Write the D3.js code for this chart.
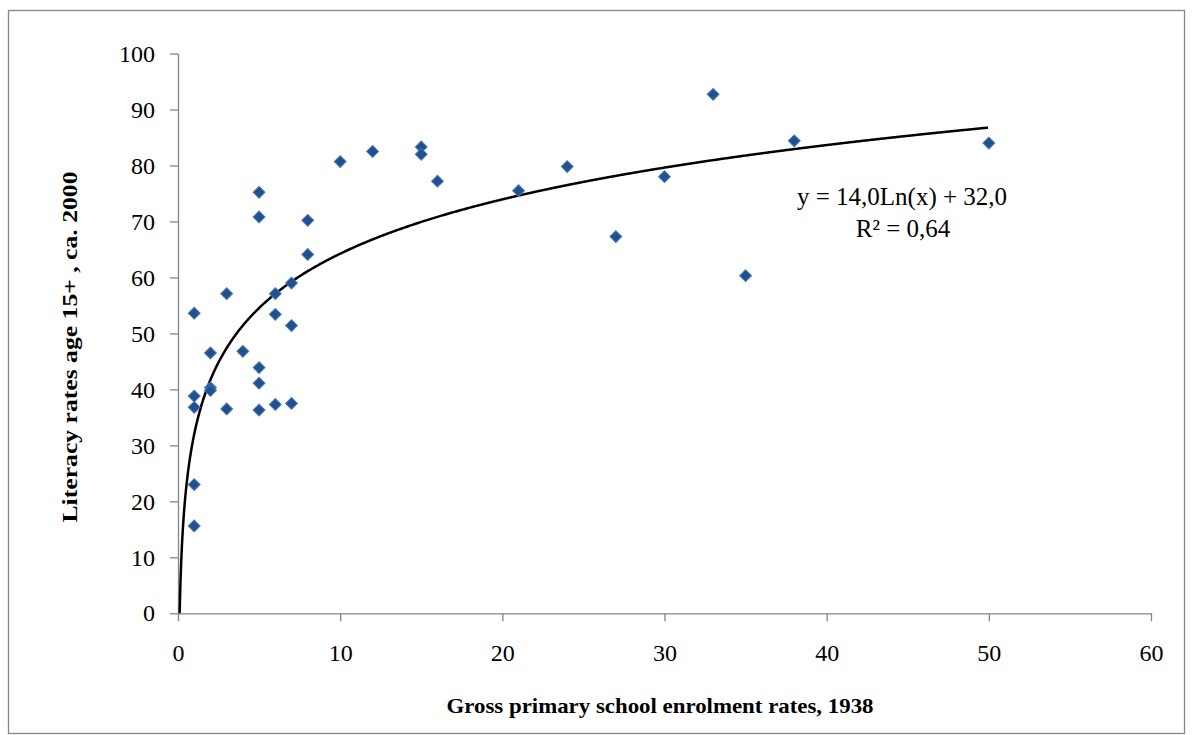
<!DOCTYPE html>
<html>
<head>
<meta charset="utf-8">
<script src="https://cdn.jsdelivr.net/npm/d3@7"></script>
<style>
  body { margin: 0; background: #fff; }
  .axis text { font-family: "Liberation Serif", "Times New Roman", serif; font-size: 24px; fill: #000; }
  .axis path, .axis line { stroke: #868686; stroke-width: 1.3; }
</style>
</head>
<body>
<div id="chart"></div>
<script>
// Data: 1938 enrolment (x) vs literacy ca. 2000 (y)
var enrolment = [1, 1, 1, 1, 1, 2, 2, 2, 3, 3, 4, 5, 5, 5, 5, 5, 6, 6, 6, 7, 7, 7, 8, 8,
                 10, 12, 15, 15, 16, 21, 24, 27, 30, 33, 35, 38, 50];
var literacy = [53.6, 38.8, 36.8, 23.0, 15.6, 46.5, 40.3, 39.8, 57.1, 36.5, 46.8,
                75.2, 70.8, 43.9, 41.1, 36.3, 57.1, 53.4, 37.3, 59.0, 51.4, 37.5, 70.2, 64.1,
                80.7, 82.5, 83.3, 82.0, 77.2, 75.5, 79.8, 67.3, 78.0, 92.7, 60.3, 84.4, 84.0];
var xTicks = [0, 10, 20, 30, 40, 50, 60];
var yTicks = [0, 10, 20, 30, 40, 50, 60, 70, 80, 90, 100];

// logarithmic trendline y = a*ln(x) + b, as printed on the chart
var trendA = 14.0;
var trendB = 32.0;
var trendLabel = "y = 14,0Ln(x) + 32,0";
var r2Label = "R\u00B2 = 0,64";

var svgWidth = 1192;
var svgHeight = 735;

var margins = { top: 53.5, right: 41, bottom: 121.7, left: 178 };
var width = svgWidth - margins.left - margins.right;
var height = svgHeight - margins.top - margins.bottom;

var svg = d3.select("#chart")
            .append("svg")
            .attr("width", svgWidth)
            .attr("height", svgHeight);

// outer chart frame
svg.append("rect")
   .attr("x", 8.5).attr("y", 10.5)
   .attr("width", 1176).attr("height", 723)
   .attr("fill", "none")
   .attr("stroke", "#868686")
   .attr("stroke-width", 1.3);

var chartGroup = svg.append("g")
                    .attr("transform", `translate(${margins.left}, ${margins.top})`);

var xScale = d3.scaleLinear().domain([0, 60]).range([0, width]);
var yScale = d3.scaleLinear().domain([0, 100]).range([height, 0]);

chartGroup.append("g")
          .classed("axis", true)
          .attr("transform", `translate(0, ${height})`)
          .call(d3.axisBottom(xScale).tickValues(xTicks).tickSize(8).tickSizeOuter(0).tickPadding(23));

chartGroup.append("g")
          .classed("axis", true)
          .call(d3.axisLeft(yScale).tickValues(yTicks).tickSize(8).tickSizeOuter(0).tickPadding(15));

// trendline
var trendX = d3.range(Math.exp(-trendB / trendA), 50.0001, 0.05);
var trendLine = d3.line()
    .x(d => xScale(d))
    .y(d => yScale(trendA * Math.log(d) + trendB));

chartGroup.append("path")
          .datum(trendX)
          .attr("d", trendLine)
          .attr("fill", "none")
          .attr("stroke", "#000")
          .attr("stroke-width", 2.5);

// diamond markers
var points = enrolment.map((x, i) => ({ x: x, y: literacy[i] }));
var diamond = d3.symbol().type(d3.symbolSquare).size(70);

chartGroup.selectAll(".pt")
          .data(points)
          .enter()
          .append("path")
          .attr("class", "pt")
          .attr("d", diamond)
          .attr("transform", d => `translate(${xScale(d.x)}, ${yScale(d.y)}) rotate(45)`)
          .attr("fill", "#22508e")
          .attr("stroke", "#4677b5")
          .attr("stroke-width", 1);

// equation labels
var serif = '"Liberation Serif", "Times New Roman", serif';
svg.append("text")
   .attr("x", 902).attr("y", 205)
   .attr("text-anchor", "middle")
   .style("font-family", serif).style("font-size", "25px")
   .text(trendLabel);

svg.append("text")
   .attr("x", 903).attr("y", 237)
   .attr("text-anchor", "middle")
   .style("font-family", serif).style("font-size", "25px")
   .text(r2Label);

// axis titles
svg.append("text")
   .attr("x", 660).attr("y", 713)
   .attr("text-anchor", "middle")
   .attr("textLength", 427)
   .attr("lengthAdjust", "spacingAndGlyphs")
   .style("font-family", serif).style("font-size", "22px").style("font-weight", "bold")
   .text("Gross primary school enrolment rates, 1938");

svg.append("text")
   .attr("transform", "translate(77, 347) rotate(-90)")
   .attr("text-anchor", "middle")
   .attr("textLength", 351)
   .attr("lengthAdjust", "spacingAndGlyphs")
   .style("font-family", serif).style("font-size", "22px").style("font-weight", "bold")
   .text("Literacy rates age 15+ , ca. 2000");
</script>
</body>
</html>
